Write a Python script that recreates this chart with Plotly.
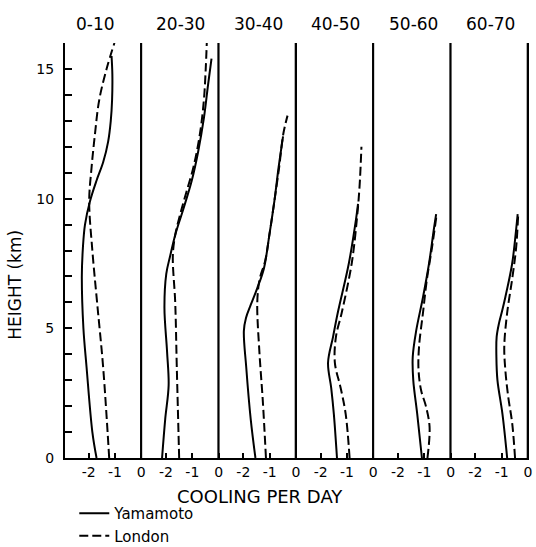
import plotly.graph_objects as go
from plotly.subplots import make_subplots

# Latitude bands (panel titles)
bands = ["0-10", "20-30", "30-40", "40-50", "50-60", "60-70"]

# Yamamoto (solid) profiles: height (km) and cooling (deg per day)
yamamoto_height = [
    [0, 1, 3.5, 5, 7, 8.1, 9, 9.9, 10.7, 11.4, 12.2, 13, 13.8, 14.8, 15.5],
    [0, 1.5, 2.8, 4.1, 5.8, 7.1, 7.8, 8.6, 9.6, 10.7, 11.8, 13.1, 14.4, 15.4],
    [0, 1.5, 3.5, 4.9, 5.4, 5.9, 6.55, 7.3, 8.6, 9.9, 11.2, 12.4],
    [0, 1.7, 2.7, 3.67, 4.67, 5.6, 7.5, 9.25, 9.8],
    [0, 1.7, 3.0, 3.9, 4.9, 6.2, 7.5, 8.8, 9.4],
    [0, 1.7, 3.0, 3.9, 4.67, 5.2, 5.6, 6.2, 7.5, 8.8, 9.4],
]
yamamoto_cooling = [
    [-1.70, -1.86, -2.08, -2.20, -2.26, -2.22, -2.14, -1.95, -1.70, -1.45, -1.26, -1.16, -1.11, -1.10, -1.13],
    [-2.15, -2.03, -1.90, -1.96, -2.06, -1.99, -1.84, -1.65, -1.34, -1.02, -0.78, -0.56, -0.40, -0.27],
    [-1.54, -1.72, -1.89, -1.98, -1.90, -1.72, -1.47, -1.22, -1.01, -0.82, -0.66, -0.49],
    [-1.38, -1.50, -1.60, -1.72, -1.53, -1.35, -0.93, -0.65, -0.58],
    [-1.09, -1.27, -1.42, -1.44, -1.31, -1.05, -0.82, -0.64, -0.55],
    [-0.79, -0.97, -1.16, -1.20, -1.19, -1.10, -1.00, -0.86, -0.60, -0.45, -0.39],
]

# London (dashed) profiles
london_height = [
    [0, 3.5, 6, 8, 9.9, 11.2, 12.5, 13.8, 15, 16],
    [0, 3.5, 6, 7.8, 8.6, 9.4, 10.2, 11.2, 12.5, 13.8, 15, 16],
    [0, 2.2, 4.1, 6, 6.9, 7.6, 8.6, 9.9, 11.2, 12.5, 13.2],
    [0, 1.7, 2.7, 3.67, 4.67, 5.6, 7.5, 9.25, 10.5, 12],
    [0, 1.2, 2.0, 2.6, 3.4, 4.3, 5.6, 6.9, 8.1, 9.4],
    [0, 1.35, 2.36, 3.4, 4.3, 5.6, 6.9, 8.1, 9.4],
]
london_cooling = [
    [-1.22, -1.45, -1.68, -1.86, -1.98, -1.89, -1.76, -1.60, -1.32, -1.02],
    [-1.50, -1.59, -1.65, -1.74, -1.65, -1.46, -1.24, -0.96, -0.71, -0.56, -0.49, -0.45],
    [-1.14, -1.26, -1.39, -1.47, -1.38, -1.17, -1.01, -0.82, -0.64, -0.48, -0.32],
    [-0.90, -1.05, -1.24, -1.46, -1.42, -1.20, -0.82, -0.62, -0.52, -0.45],
    [-0.88, -0.80, -0.94, -1.12, -1.22, -1.20, -1.05, -0.90, -0.71, -0.53],
    [-0.49, -0.60, -0.75, -0.86, -0.90, -0.79, -0.60, -0.45, -0.37],
]

x_tickvals = [-2, -1, 0]
x_ticktext = ["-2", "-1", "0"]
y_tickvals = [0, 5, 10, 15]

FONT = "DejaVu Sans"

fig = make_subplots(rows=1, cols=6, shared_yaxes=True, horizontal_spacing=0)

for i in range(6):
    fig.add_trace(go.Scatter(
        x=yamamoto_cooling[i], y=yamamoto_height[i], mode="lines",
        line=dict(color="black", width=2, shape="spline", smoothing=1),
        name="Yamamoto", legendgroup="yam", showlegend=(i == 0),
    ), row=1, col=i + 1)
    fig.add_trace(go.Scatter(
        x=london_cooling[i], y=london_height[i], mode="lines",
        line=dict(color="black", width=2, dash="9px,4px", shape="spline", smoothing=1),
        name="London", legendgroup="lon", showlegend=(i == 0),
    ), row=1, col=i + 1)
    xref = "x" if i == 0 else f"x{i + 1}"
    fig.add_shape(type="line", xref=xref, yref="y", x0=0, x1=0, y0=0, y1=16,
                  line=dict(color="black", width=2.5))
    fig.add_annotation(text=bands[i], xref=f"{xref} domain", yref="paper",
                       x=0.4 if i == 0 else 0.5, y=1.046, showarrow=False,
                       font=dict(family=FONT, size=17, color="black"),
                       xanchor="center", yanchor="middle")
    fig.update_xaxes(range=[-2.9, 0.04], tickvals=x_tickvals, ticktext=x_ticktext,
                     ticks="inside", ticklen=5, tickwidth=1.5, tickcolor="black",
                     showline=True, linecolor="black", linewidth=2,
                     showgrid=False, zeroline=False,
                     tickfont=dict(family=FONT, size=14, color="black"),
                     row=1, col=i + 1)

fig.update_yaxes(range=[0, 16], tickvals=y_tickvals, ticks="inside", ticklen=7,
                 tickwidth=1.5, tickcolor="black",
                 minor=dict(ticks="inside", dtick=1, ticklen=7, tickwidth=1.5, tickcolor="black"),
                 showline=True, linecolor="black", linewidth=2,
                 showgrid=False, zeroline=False,
                 tickfont=dict(family=FONT, size=14, color="black"),
                 ticklabelstandoff=6, row=1, col=1)

fig.add_annotation(text="COOLING PER DAY", xref="paper", yref="paper",
                   x=0.42, y=-0.092, showarrow=False,
                   font=dict(family=FONT, size=18, color="black"),
                   xanchor="center", yanchor="middle")
fig.add_annotation(text="HEIGHT (km)", xref="paper", yref="paper",
                   x=-0.108, y=0.417, showarrow=False, textangle=-90,
                   font=dict(family=FONT, size=17, color="black"),
                   xanchor="center", yanchor="middle")

fig.update_layout(
    width=536, height=547,
    margin=dict(l=65, r=7, t=43, b=89, autoexpand=False),
    paper_bgcolor="white", plot_bgcolor="white",
    font=dict(family=FONT, color="black"),
    showlegend=True,
    legend=dict(x=0.02, y=-0.094, xanchor="left", yanchor="top",
                orientation="v", bgcolor="rgba(0,0,0,0)",
                font=dict(family=FONT, size=15, color="black"),
                itemwidth=30, tracegroupgap=0),
)

fig.write_html("out.html", config={"displayModeBar": False},
               post_script="document.body.style.margin='0';document.body.style.overflow='hidden';")
